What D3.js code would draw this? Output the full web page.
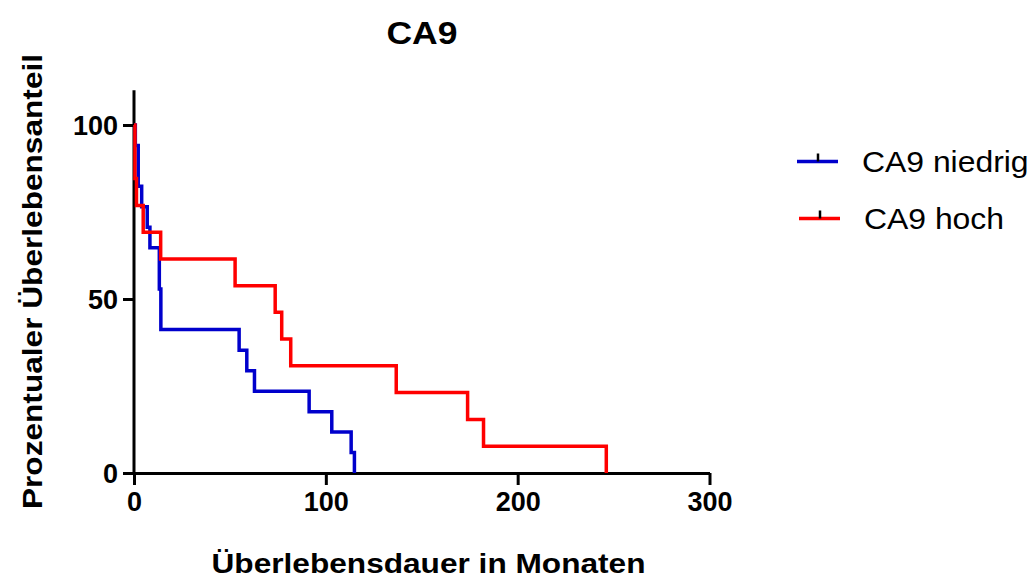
<!DOCTYPE html>
<html>
<head>
<meta charset="utf-8">
<script src="https://cdn.jsdelivr.net/npm/d3@7"></script>
<style>
  body { margin: 0; background: #fff; }
  svg { font-family: "Liberation Sans", Arial, sans-serif; }
</style>
</head>
<body>
<div id="chart"></div>
<script>
// Kaplan-Meier steps (months, percent surviving)
const niedrigTime = [0, 0.7, 2.2, 4.0, 6.9, 8.3, 13.2, 14.0, 54.8, 58.8, 62.8, 91.3, 103.1, 113.2, 114.9];
const niedrigSurv = [100, 94.1, 82.4, 76.5, 70.6, 64.7, 52.9, 41.2, 35.3, 29.4, 23.5, 17.6, 11.8, 5.9, 0];
const hochTime = [0, 0.5, 1.3, 4.8, 13.9, 52.7, 73.6, 77.0, 81.7, 136.7, 173.9, 182.2, 246.2];
const hochSurv = [100, 84.6, 76.9, 69.2, 61.5, 53.8, 46.2, 38.5, 30.8, 23.1, 15.4, 7.7, 0];

const seriesNames = ['CA9 niedrig', 'CA9 hoch'];
const seriesColors = ['#0000cc', '#ff0000'];
const xTicks = [0, 100, 200, 300];
const yTicks = [0, 50, 100];

const width = 1030;
const height = 577;
const margin = { top: 89, right: 320, bottom: 104, left: 134 };

const svg = d3.select('#chart')
    .append('svg')
    .attr('width', width)
    .attr('height', height);

const x = d3.scaleLinear()
    .domain([0, 300])
    .range([margin.left, 709.5]);

const y = d3.scaleLinear()
    .domain([0, 100])
    .range([473, 125]);

// axes
const xAxis = svg.append('g')
    .attr('transform', `translate(0, ${y(0)})`)
    .call(d3.axisBottom(x).tickValues(xTicks).tickSize(12).tickSizeOuter(0).tickPadding(7));

const yAxis = svg.append('g')
    .attr('transform', `translate(${x(0)}, 0)`)
    .call(d3.axisLeft(y).tickValues(yTicks).tickSize(11).tickSizeOuter(0).tickPadding(5));

// y axis runs a little above 100
yAxis.select('.domain').attr('d', `M0,${y(0)}V${y(110)}`);

[xAxis, yAxis].forEach(g => {
    g.selectAll('.domain, .tick line')
        .attr('stroke', '#000')
        .attr('stroke-width', 3);
    g.selectAll('.tick text')
        .attr('fill', '#000')
        .style('font-size', '27px')
        .style('font-weight', 'bold');
});
yAxis.selectAll('.tick text').attr('dy', '0.36em');

// survival curves
const line = d3.line()
    .x(d => x(d[0]))
    .y(d => y(d[1]))
    .curve(d3.curveStepAfter);

const series = [
    d3.zip(niedrigTime, niedrigSurv),
    d3.zip(hochTime, hochSurv)
];

svg.selectAll('.km')
    .data(series)
    .enter()
    .append('path')
    .attr('class', 'km')
    .attr('d', line)
    .attr('fill', 'none')
    .attr('stroke', (d, i) => seriesColors[i])
    .attr('stroke-width', 3.5);

// titles (the original type is a bit wider than Arial, so stretch it)
function stretchedText(txt, cx, cy, size, anchor, rotate) {
    const rot = rotate ? ` rotate(${rotate})` : '';
    svg.append('text')
        .attr('transform', `translate(${cx}, ${cy})${rot} scale(1.11, 1)`)
        .attr('text-anchor', anchor)
        .style('font-size', size + 'px')
        .style('font-weight', 'bold')
        .text(txt);
}

stretchedText('CA9', 422, 44, 32, 'middle');
stretchedText('Überlebensdauer in Monaten', 428.5, 573, 28.5, 'middle');
stretchedText('Prozentualer Überlebensanteil', 42, 281.5, 28.5, 'middle', -90);

// legend
const legend = svg.selectAll('.legend')
    .data(seriesNames)
    .enter()
    .append('g')
    .attr('class', 'legend')
    .attr('transform', (d, i) => `translate(${797 + i * 2}, ${161.5 + i * 57})`);

legend.append('line')
    .attr('x1', 0).attr('x2', 41)
    .attr('stroke', (d, i) => seriesColors[i])
    .attr('stroke-width', 3.3);

legend.append('line')
    .attr('x1', 21).attr('x2', 21)
    .attr('y1', -8).attr('y2', 0)
    .attr('stroke', '#000')
    .attr('stroke-width', 2.5);

legend.append('text')
    .attr('transform', 'translate(65, 10) scale(1.1, 1)')
    .style('font-size', '29px')
    .text(d => d);
</script>
</body>
</html>
